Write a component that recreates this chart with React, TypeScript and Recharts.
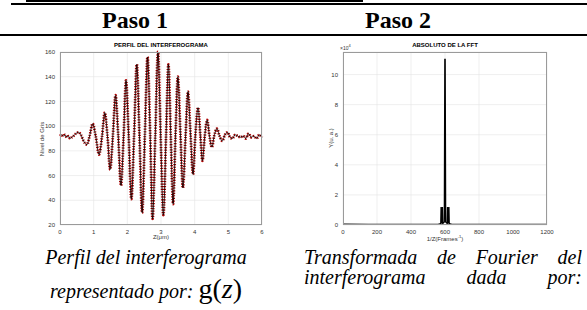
import { LineChart, Line, XAxis, YAxis, CartesianGrid } from "recharts";

// Paso 1: perfil del interferograma (Z en µm, nivel de gris)
const zPos = [
  0, 0.05, 0.1, 0.15, 0.2, 0.25, 0.3, 0.35, 0.4, 0.47, 0.55, 0.62, 0.7, 0.8, 0.88,
  0.97, 1.06, 1.16, 1.25, 1.33, 1.41, 1.49, 1.57, 1.65, 1.73, 1.81, 1.89, 1.96, 2.04,
  2.12, 2.2, 2.28, 2.36, 2.44, 2.52, 2.6, 2.68, 2.75, 2.83, 2.91, 2.99, 3.07, 3.15,
  3.22, 3.29, 3.36, 3.43, 3.5, 3.58, 3.65, 3.73, 3.8, 3.88, 3.95, 4.02, 4.1, 4.17,
  4.23, 4.3, 4.37, 4.44, 4.51, 4.58, 4.66, 4.74, 4.82, 4.9, 4.98, 5.05, 5.12, 5.2,
  5.28, 5.36, 5.44, 5.52, 5.6, 5.68, 5.76, 5.84, 5.92, 6,
];
const grayLevel = [
  92, 93, 92, 93, 91, 92, 90, 91, 92, 94, 95, 93, 88, 85, 92,
  102, 92, 77, 92, 111, 92, 65, 92, 125, 92, 52, 92, 137, 92,
  41, 92, 150, 92, 30, 92, 156, 92, 25, 92, 160, 92, 28, 92,
  150, 92, 37, 92, 140, 92, 50, 92, 128, 92, 61, 92, 115, 92,
  72, 92, 105, 92, 83, 92, 98, 92, 88, 93, 95, 91, 90, 93,
  92, 91, 92, 90, 94, 91, 92, 90, 93, 91,
];
const zTicks = [0, 1, 2, 3, 4, 5, 6];
const grayTicks = [20, 40, 60, 80, 100, 120, 140, 160];

// Paso 2: absoluto de la FFT (amplitud en unidades de 10^4)
const freq = [
  0, 150, 300, 450, 560, 575, 577, 579, 583, 585, 587, 596, 599, 601, 604,
  613, 615, 617, 621, 623, 625, 640, 800, 1000, 1200,
];
const fftAmp = [
  0.06, 0.04, 0.04, 0.04, 0.04, 0.1, 1.2, 0.15, 0.15, 1.2, 0.1, 0.2, 11, 11, 0.2,
  0.1, 1.2, 0.15, 0.15, 1.2, 0.1, 0.04, 0.04, 0.04, 0.04,
];
const freqTicks = [0, 200, 400, 600, 800, 1000, 1200];
const ampTicks = [0, 2, 4, 6, 8, 10];

const profileData = zPos.map((z, i) => ({ z, g: grayLevel[i] }));
const fftData = freq.map((f, i) => ({ f, a: fftAmp[i] }));

const sans = "'Liberation Sans', Arial, sans-serif";
const serif = "'Liberation Serif', 'Times New Roman', Times, serif";
const tickStyle = { fontSize: 6, fill: "#333", fontFamily: sans };
const gridColor = "#e4e4e4";
const frameColor = "#9a9a9a";

function Txt({ x, y, children, style }: any) {
  return (
    <div style={{ position: "absolute", left: x, top: y, whiteSpace: "nowrap", ...style }}>
      {children}
    </div>
  );
}

function Frame({ left, top, width, height }: any) {
  return (
    <div
      style={{
        position: "absolute",
        left,
        top,
        width,
        height,
        border: `1px solid ${frameColor}`,
        boxSizing: "border-box",
        pointerEvents: "none",
      }}
    />
  );
}

const captionStyle = {
  fontFamily: serif,
  fontStyle: "italic",
  fontSize: 20,
  lineHeight: "22px",
};

export default function App() {
  return (
    <div
      style={{
        position: "absolute",
        left: 0,
        top: 0,
        width: 587,
        height: 310,
        overflow: "hidden",
        background: "#fff",
      }}
    >
      {/* table rules */}
      <div style={{ position: "absolute", left: 26, top: 0, width: 337, height: 2, background: "#000" }} />
      <div style={{ position: "absolute", left: 11, top: 3, width: 576, height: 1.5, background: "#000" }} />
      <div style={{ position: "absolute", left: 0, top: 34, width: 587, height: 2, background: "#000" }} />

      <Txt x={75} y={8} style={{ width: 120, textAlign: "center", fontFamily: serif, fontWeight: 700, fontSize: 24, lineHeight: "24px" }}>
        Paso 1
      </Txt>
      <Txt x={338} y={8} style={{ width: 120, textAlign: "center", fontFamily: serif, fontWeight: 700, fontSize: 24, lineHeight: "24px" }}>
        Paso 2
      </Txt>

      {/* Paso 1 chart */}
      <Txt x={111} y={42} style={{ width: 100, textAlign: "center", fontFamily: sans, fontWeight: 700, fontSize: 6, lineHeight: "6px" }}>
        PERFIL DEL INTERFEROGRAMA
      </Txt>
      <div style={{ position: "absolute", left: 0, top: 40 }}>
        <LineChart width={300} height={200} data={profileData} margin={{ top: 12, right: 38, bottom: 0, left: 38 }}>
          <CartesianGrid stroke={gridColor} strokeWidth={0.6} />
          <XAxis
            dataKey="z"
            type="number"
            domain={[0, 6]}
            ticks={zTicks}
            height={15}
            tickSize={3}
            tickLine={false}
            axisLine={false}
            tick={tickStyle}
          />
          <YAxis
            type="number"
            domain={[20, 160]}
            ticks={grayTicks}
            width={22}
            tickSize={3}
            tickLine={false}
            axisLine={false}
            tick={tickStyle}
          />
          <Line
            type="monotone"
            dataKey="g"
            stroke="#b00000"
            strokeWidth={2.8}
            strokeDasharray="1.2 1.4"
            dot={false}
            isAnimationActive={false}
          />
          <Line type="monotone" dataKey="g" stroke="#000" strokeWidth={0.8} dot={false} isAnimationActive={false} />
        </LineChart>
      </div>
      <Frame left={60} top={52} width={202} height={173} />
      <Txt x={42} y={139} style={{ fontFamily: sans, fontSize: 6, color: "#333", transform: "translate(-50%, -50%) rotate(-90deg)", lineHeight: "6px" }}>
        Nivel de Gris
      </Txt>
      <Txt x={141} y={234} style={{ width: 40, textAlign: "center", fontFamily: sans, fontSize: 6, color: "#333", lineHeight: "6px" }}>
        Z(μm)
      </Txt>

      {/* Paso 2 chart */}
      <Txt x={395} y={42} style={{ width: 100, textAlign: "center", fontFamily: sans, fontWeight: 700, fontSize: 6, lineHeight: "6px" }}>
        ABSOLUTO DE LA FFT
      </Txt>
      <Txt x={340} y={43} style={{ fontFamily: sans, fontSize: 5, color: "#333", lineHeight: "6px" }}>
        ×10<sup style={{ fontSize: 4 }}>4</sup>
      </Txt>
      <div style={{ position: "absolute", left: 300, top: 40 }}>
        <LineChart width={287} height={200} data={fftData} margin={{ top: 12, right: 40, bottom: 0, left: 23 }}>
          <CartesianGrid stroke={gridColor} strokeWidth={0.6} />
          <XAxis
            dataKey="f"
            type="number"
            domain={[0, 1200]}
            ticks={freqTicks}
            height={15}
            tickSize={3}
            tickLine={false}
            axisLine={false}
            tick={tickStyle}
          />
          <YAxis
            type="number"
            domain={[0, 11.5]}
            ticks={ampTicks}
            width={20}
            tickSize={3}
            tickLine={false}
            axisLine={false}
            tick={tickStyle}
          />
          <Line type="linear" dataKey="a" stroke="#000" strokeWidth={1.3} dot={false} isAnimationActive={false} />
        </LineChart>
      </div>
      <Frame left={343} top={52} width={204} height={173} />
      <Txt x={331} y={138} style={{ fontFamily: sans, fontSize: 6, color: "#333", transform: "translate(-50%, -50%) rotate(-90deg)", lineHeight: "6px" }}>
        Y(u. a.)
      </Txt>
      <Txt x={405} y={234} style={{ width: 80, textAlign: "center", fontFamily: sans, fontSize: 6, color: "#333", lineHeight: "6px" }}>
        1/Z(Frames<sup style={{ fontSize: 4 }}>-1</sup>)
      </Txt>

      {/* captions */}
      <Txt x={0} y={246} style={{ width: 292, textAlign: "center", ...captionStyle }}>
        Perfil del interferograma
      </Txt>
      <Txt x={0} y={274} style={{ width: 292, textAlign: "center", ...captionStyle, lineHeight: "30px" }}>
        representado por:{" "}
        <span style={{ fontStyle: "normal", fontSize: 28 }}>
          g(<i>z</i>)
        </span>
      </Txt>
      <div
        style={{
          position: "absolute",
          left: 304,
          top: 246,
          width: 278,
          ...captionStyle,
          textAlign: "justify",
          textAlignLast: "justify",
        }}
      >
        Transformada de Fourier del
      </div>
      <div
        style={{
          position: "absolute",
          left: 304,
          top: 266,
          width: 278,
          ...captionStyle,
          textAlign: "justify",
          textAlignLast: "justify",
        }}
      >
        interferograma dada por:
      </div>
    </div>
  );
}
